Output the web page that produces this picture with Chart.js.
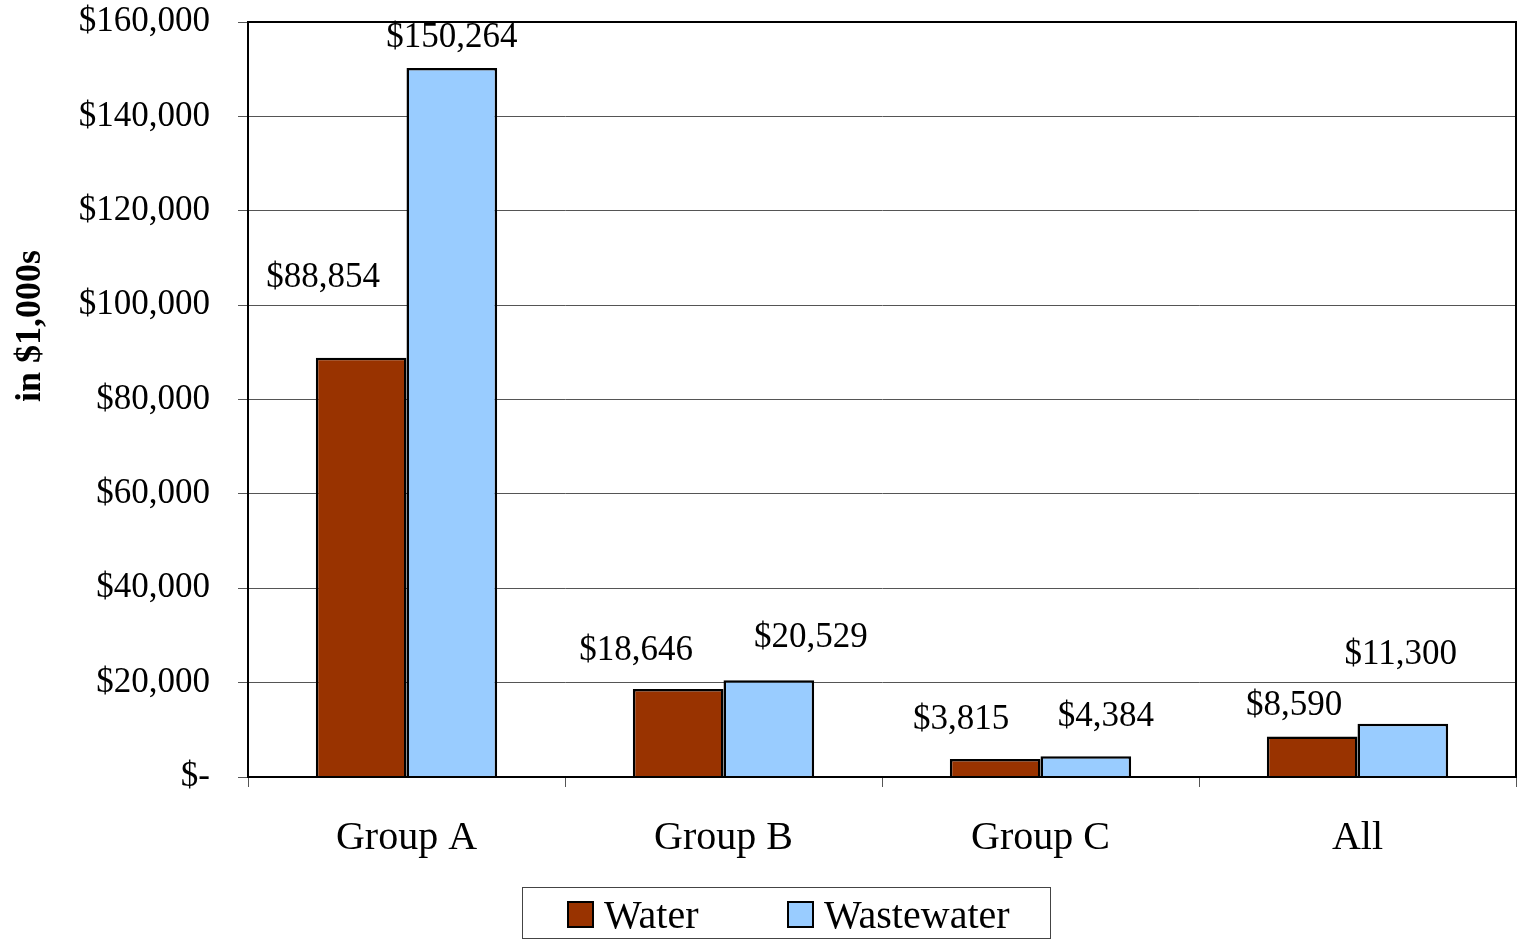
<!DOCTYPE html>
<html>
<head>
<meta charset="utf-8">
<script src="https://cdn.jsdelivr.net/npm/chart.js@4/dist/chart.umd.min.js"></script>
<style>
  html, body { margin: 0; padding: 0; background: #fff; }
  #wrap { width: 1518px; height: 939px; }
</style>
</head>
<body>
<div id="wrap"><canvas id="chart" width="1518" height="939"></canvas></div>
<script>
const categories = ['Group A', 'Group B', 'Group C', 'All'];
const waterValues = [88854, 18646, 3815, 8590];
const wastewaterValues = [150264, 20529, 4384, 11300];
const yTicks = [0, 20000, 40000, 60000, 80000, 100000, 120000, 140000, 160000];

// where each value label sits relative to the top centre of its bar (px)
const labelOffsets = [
  [[-38, -80], [0, -30]],
  [[-42, -38], [42, -42]],
  [[-34, -39], [20, -40]],
  [[-18, -31], [-2, -69]]
];

const SERIF = '"Liberation Serif", "Times New Roman", serif';

const money = v => v === 0 ? '$-' : '$' + v.toLocaleString('en-US');

const frame = {
  id: 'frame',
  afterDraw(chart) {
    const { ctx, chartArea: a } = chart;
    ctx.save();

    // box around the plot
    ctx.strokeStyle = '#000';
    ctx.lineWidth = 2;
    ctx.strokeRect(a.left, a.top, a.right - a.left, a.bottom - a.top);

    // value labels
    ctx.fillStyle = '#000';
    ctx.font = '35px ' + SERIF;
    ctx.textAlign = 'center';
    ctx.textBaseline = 'middle';
    chart.data.datasets.forEach((ds, di) => {
      chart.getDatasetMeta(di).data.forEach((bar, i) => {
        const [dx, dy] = labelOffsets[i][di];
        ctx.fillText(money(ds.data[i]), bar.x + dx, bar.y + dy);
      });
    });

    // y axis title
    ctx.save();
    ctx.translate(31, 326);
    ctx.rotate(-Math.PI / 2);
    ctx.font = 'bold 36px ' + SERIF;
    ctx.fillText('in $1,000s', 0, 0);
    ctx.restore();

    // legend
    ctx.strokeStyle = '#444';
    ctx.lineWidth = 1;
    ctx.strokeRect(522.5, 887.5, 528, 51);
    ctx.font = '40px ' + SERIF;
    ctx.textAlign = 'left';
    const slots = [568, 788];
    chart.data.datasets.forEach((ds, di) => {
      const x = slots[di];
      ctx.fillStyle = ds.backgroundColor;
      ctx.fillRect(x, 902, 25, 25);
      ctx.strokeStyle = '#000';
      ctx.lineWidth = 2;
      ctx.strokeRect(x, 902, 25, 25);
      ctx.fillStyle = '#000';
      ctx.fillText(ds.label, x + 36, 917);
    });
    ctx.restore();
  }
};

new Chart(document.getElementById('chart'), {
  type: 'bar',
  data: {
    labels: categories,
    datasets: [
      {
        label: 'Water',
        data: waterValues,
        backgroundColor: '#993300',
        borderColor: '#000',
        borderWidth: 2.5,
        categoryPercentage: 0.572,
        barPercentage: 1
      },
      {
        label: 'Wastewater',
        data: wastewaterValues,
        backgroundColor: '#99CCFF',
        borderColor: '#000',
        borderWidth: 2.5,
        categoryPercentage: 0.572,
        barPercentage: 1
      }
    ]
  },
  options: {
    responsive: false,
    animation: false,
    layout: { padding: { top: 22, right: 2, bottom: 0, left: 0 } },
    plugins: {
      legend: { display: false },
      tooltip: { enabled: false }
    },
    scales: {
      x: {
        offset: true,
        grid: {
          offset: true,
          drawOnChartArea: false,
          drawTicks: true,
          tickLength: 10,
          color: '#555'
        },
        border: { color: '#000', width: 2 },
        ticks: {
          color: '#000',
          padding: 27,
          font: { family: SERIF, size: 40 }
        },
        afterFit(scale) { scale.height = 162; }
      },
      y: {
        min: 0,
        max: 160000,
        afterBuildTicks(scale) { scale.ticks = yTicks.map(v => ({ value: v })); },
        grid: { color: '#555', lineWidth: 1, tickLength: 10 },
        border: { color: '#000', width: 2 },
        ticks: {
          color: '#000',
          padding: 28,
          font: { family: SERIF, size: 35 },
          callback: v => money(v)
        },
        afterFit(scale) {
          scale.width = 248;
          scale.paddingTop = 0;
          scale.paddingBottom = 0;
        }
      }
    }
  },
  plugins: [frame]
});
</script>
</body>
</html>
